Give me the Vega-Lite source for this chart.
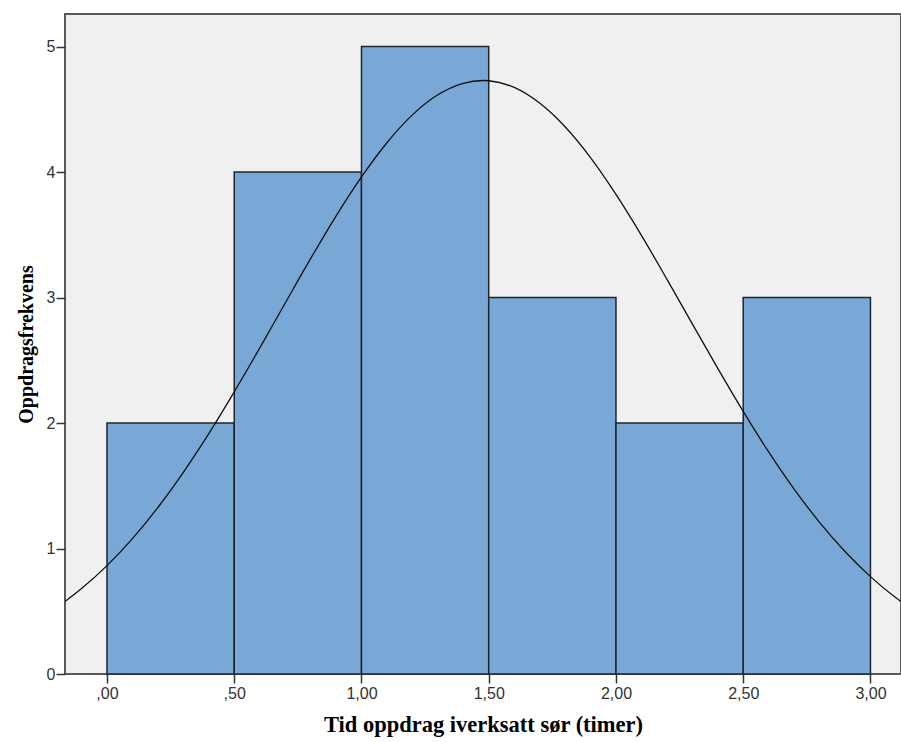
{
  "$schema": "https://vega.github.io/schema/vega-lite/v6.json",
  "width": 836,
  "height": 660,
  "autosize": {"type": "none"},
  "padding": {"left": 65, "top": 14, "right": 0, "bottom": 68},
  "background": "#ffffff",
  "config": {
    "view": {"fill": "#f0f0f0", "stroke": "#5a5a5a", "strokeWidth": 2},
    "axis": {
      "grid": false,
      "domain": false,
      "tickColor": "#333333",
      "tickSize": 9,
      "tickWidth": 1.5,
      "labelFont": "Liberation Sans",
      "labelFontSize": 16,
      "labelColor": "#333333",
      "titleFont": "Liberation Serif",
      "titleFontWeight": "bold",
      "titleColor": "#000000"
    }
  },
  "datasets": {
    "bins": [
      {"start": 0.0, "end": 0.5, "count": 2},
      {"start": 0.5, "end": 1.0, "count": 4},
      {"start": 1.0, "end": 1.5, "count": 5},
      {"start": 1.5, "end": 2.0, "count": 3},
      {"start": 2.0, "end": 2.5, "count": 2},
      {"start": 2.5, "end": 3.0, "count": 3}
    ],
    "curve": [
      {"x": -0.165, "y": 0.578},
      {"x": -0.1, "y": 0.681},
      {"x": 0.0, "y": 0.864},
      {"x": 0.1, "y": 1.079},
      {"x": 0.2, "y": 1.327},
      {"x": 0.3, "y": 1.607},
      {"x": 0.4, "y": 1.915},
      {"x": 0.5, "y": 2.248},
      {"x": 0.6, "y": 2.597},
      {"x": 0.7, "y": 2.955},
      {"x": 0.8, "y": 3.31},
      {"x": 0.9, "y": 3.649},
      {"x": 1.0, "y": 3.961},
      {"x": 1.1, "y": 4.234},
      {"x": 1.2, "y": 4.456},
      {"x": 1.3, "y": 4.616},
      {"x": 1.4, "y": 4.708},
      {"x": 1.477, "y": 4.73},
      {"x": 1.5, "y": 4.728},
      {"x": 1.6, "y": 4.675},
      {"x": 1.7, "y": 4.55},
      {"x": 1.8, "y": 4.361},
      {"x": 1.9, "y": 4.115},
      {"x": 2.0, "y": 3.822},
      {"x": 2.1, "y": 3.496},
      {"x": 2.2, "y": 3.147},
      {"x": 2.3, "y": 2.79},
      {"x": 2.4, "y": 2.436},
      {"x": 2.5, "y": 2.093},
      {"x": 2.6, "y": 1.77},
      {"x": 2.7, "y": 1.474},
      {"x": 2.8, "y": 1.209},
      {"x": 2.9, "y": 0.976},
      {"x": 3.0, "y": 0.776},
      {"x": 3.1, "y": 0.607},
      {"x": 3.12, "y": 0.577}
    ]
  },
  "layer": [
    {
      "data": {"name": "bins"},
      "mark": {"type": "rect", "fill": "#79a8d6", "stroke": "#1e2630", "strokeWidth": 1.5},
      "encoding": {
        "x": {
          "field": "start", "type": "quantitative",
          "scale": {"domain": [-0.165, 3.12], "nice": false, "zero": false},
          "axis": {
            "values": [0, 0.5, 1, 1.5, 2, 2.5, 3],
            "title": "Tid oppdrag iverksatt sør (timer)",
            "titleFontSize": 22.5,
            "titlePadding": 12,
            "labelPadding": 2,
            "labelExpr": "datum.value < 1 ? slice(replace(format(datum.value, '.2f'), '.', ','), 1) : replace(format(datum.value, '.2f'), '.', ',')"
          }
        },
        "x2": {"field": "end"},
        "y": {
          "field": "count", "type": "quantitative",
          "scale": {"domain": [0, 5.26], "nice": false},
          "axis": {
            "values": [0, 1, 2, 3, 4, 5],
            "format": "d",
            "title": "Oppdragsfrekvens",
            "titleFontSize": 20,
            "titlePadding": 10,
            "labelPadding": 1
          }
        },
        "y2": {"datum": 0}
      }
    },
    {
      "data": {"name": "curve"},
      "mark": {"type": "line", "color": "#111111", "strokeWidth": 1.3, "interpolate": "monotone", "clip": true},
      "encoding": {
        "x": {"field": "x", "type": "quantitative"},
        "y": {"field": "y", "type": "quantitative"}
      }
    }
  ]
}
